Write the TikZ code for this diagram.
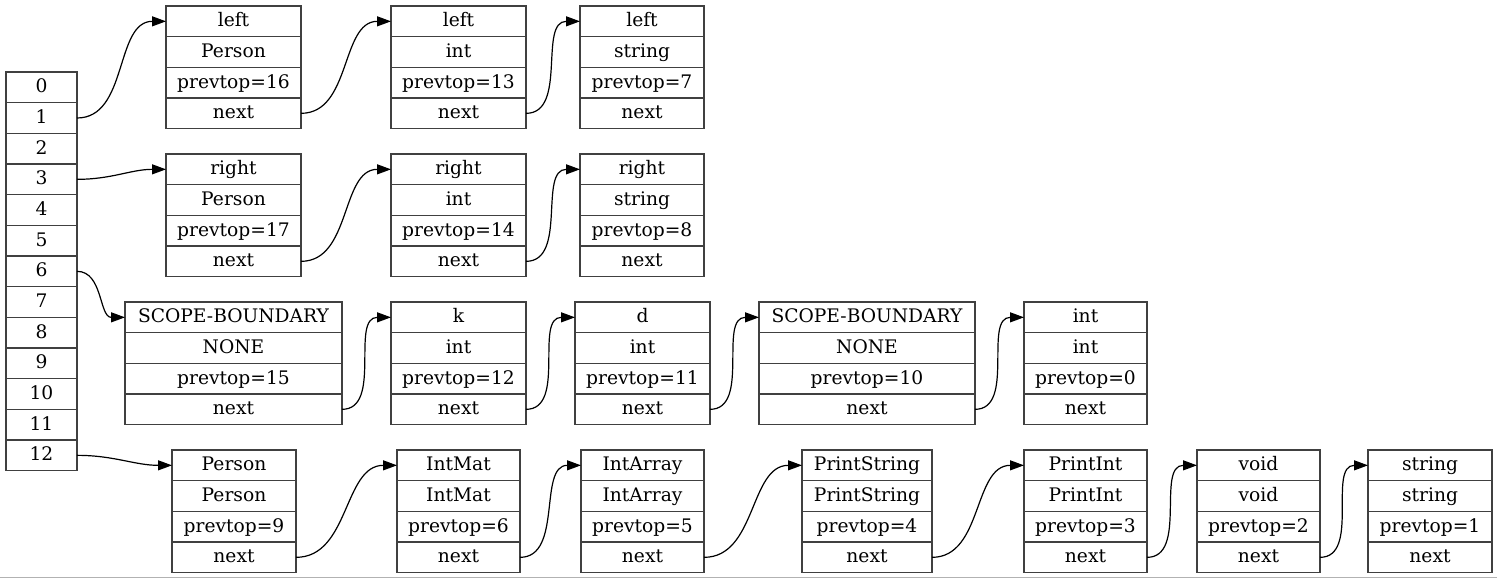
\documentclass[tikz,border=0pt]{standalone}
\usepackage{fontspec}
\setmainfont{DejaVu Serif}
\usetikzlibrary{arrows.meta}
\tikzset{
  cell/.style={draw=black!75, line width=1pt, inner sep=0pt, outer sep=0pt,
    minimum height=23pt, text height=10.5pt, text depth=2.5pt,
    font=\fontsize{14pt}{16pt}\selectfont, text=black},
  edge/.style={draw=black, line width=0.9pt, -{Triangle[length=10.5pt,width=7.5pt]}}
}
\newcommand\rec[8]{%
  \node[cell, minimum width={(#3-#2)*0.75pt}, anchor=north west] (#1-1) at (#2,#4) {#5};
  \node[cell, minimum width={(#3-#2)*0.75pt}, anchor=north] (#1-2) at (#1-1.south) {#6};
  \node[cell, minimum width={(#3-#2)*0.75pt}, anchor=north] (#1-3) at (#1-2.south) {#7};
  \node[cell, minimum width={(#3-#2)*0.75pt}, anchor=north] (#1-4) at (#1-3.south) {#8};
}
\newcommand\lnk[2]{\draw[edge] (#1) to[out=0,in=180] (#2);}
\begin{document}
\begin{tikzpicture}[x=0.75pt,y=-0.75pt]
\useasboundingbox (0,0) rectangle (1497,579);
\draw[black!30, line width=1.2pt] (0,577.5) -- (1497,577.5);
% array
\node[cell, minimum width={71*0.75pt}, anchor=north west] (arr0) at (6,72) {0};
\foreach \i [remember=\i as \j (initially 0)] in {1,...,12}{
  \node[cell, minimum width={71*0.75pt}, anchor=north] (arr\i) at (arr\j.south) {\i};
}
% records
\rec{A1}{166}{301}{6}{left}{Person}{prevtop=16}{next}
\rec{A2}{391}{526}{6}{left}{int}{prevtop=13}{next}
\rec{A3}{580}{704}{6}{left}{string}{prevtop=7}{next}
\rec{B1}{166}{301}{154}{right}{Person}{prevtop=17}{next}
\rec{B2}{391}{526}{154}{right}{int}{prevtop=14}{next}
\rec{B3}{580}{704}{154}{right}{string}{prevtop=8}{next}
\rec{C1}{125}{342}{302}{SCOPE-BOUNDARY}{NONE}{prevtop=15}{next}
\rec{C2}{391}{526}{302}{k}{int}{prevtop=12}{next}
\rec{C3}{575}{710}{302}{d}{int}{prevtop=11}{next}
\rec{C4}{759}{975}{302}{SCOPE-BOUNDARY}{NONE}{prevtop=10}{next}
\rec{C5}{1024}{1147}{302}{int}{int}{prevtop=0}{next}
\rec{D1}{172}{296}{450}{Person}{Person}{prevtop=9}{next}
\rec{D2}{397}{520}{450}{IntMat}{IntMat}{prevtop=6}{next}
\rec{D3}{581}{704}{450}{IntArray}{IntArray}{prevtop=5}{next}
\rec{D4}{802}{932}{450}{PrintString}{PrintString}{prevtop=4}{next}
\rec{D5}{1024}{1147}{450}{PrintInt}{PrintInt}{prevtop=3}{next}
\rec{D6}{1197}{1320}{450}{void}{void}{prevtop=2}{next}
\rec{D7}{1368}{1492}{450}{string}{string}{prevtop=1}{next}
% links
\lnk{arr1.east}{A1-1.west}
\lnk{A1-4.east}{A2-1.west}
\lnk{A2-4.east}{A3-1.west}
\lnk{arr3.east}{B1-1.west}
\lnk{B1-4.east}{B2-1.west}
\lnk{B2-4.east}{B3-1.west}
\lnk{arr6.east}{C1-1.west}
\lnk{C1-4.east}{C2-1.west}
\lnk{C2-4.east}{C3-1.west}
\lnk{C3-4.east}{C4-1.west}
\lnk{C4-4.east}{C5-1.west}
\lnk{arr12.east}{D1-1.west}
\lnk{D1-4.east}{D2-1.west}
\lnk{D2-4.east}{D3-1.west}
\lnk{D3-4.east}{D4-1.west}
\lnk{D4-4.east}{D5-1.west}
\lnk{D5-4.east}{D6-1.west}
\lnk{D6-4.east}{D7-1.west}
\end{tikzpicture}
\end{document}
